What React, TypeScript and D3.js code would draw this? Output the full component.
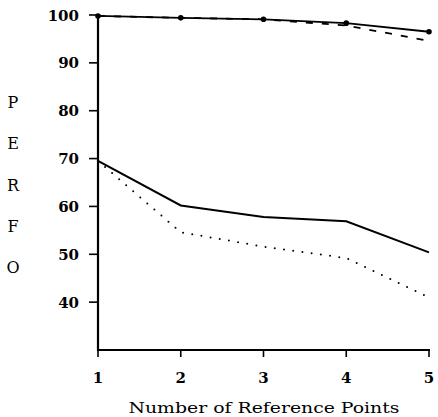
import React from "react";
import * as d3 from "d3";

// Number of reference points on the x axis
const refPoints = [1, 2, 3, 4, 5];
// Upper pair of curves
const upperSolid = [99.8, 99.4, 99.1, 98.3, 96.5];
const upperDashed = [99.8, 99.4, 99.1, 97.8, 94.6];
// Lower pair of curves
const lowerSolid = [69.5, 60.2, 57.8, 56.9, 50.4];
const lowerDotted = [69.5, 54.6, 51.6, 49.2, 41.0];

const yTicks = [40, 50, 60, 70, 80, 90, 100];
const yLabelLetters = ["P", "E", "R", "F", "O"];

const W = 438;
const H = 417;

export default function App() {
  const x = d3.scaleLinear().domain([1, 5]).range([98, 429]);
  const y = d3.scaleLinear().domain([30, 100]).range([350, 15]);

  const line = d3
    .line<number>()
    .x((_, i) => x(refPoints[i]))
    .y((d) => y(d));

  const serif = "'DejaVu Serif', 'Liberation Serif', serif";

  return (
    <svg
      width={W}
      height={H}
      style={{ position: "absolute", left: 0, top: 0, background: "#fff" }}
    >
      {/* axes */}
      <line x1={x(1)} x2={x(1)} y1={y(100) - 1} y2={y(30) + 1} stroke="#000" strokeWidth={2.2} />
      <line x1={x(1) - 1} x2={x(5) + 1} y1={y(30)} y2={y(30)} stroke="#000" strokeWidth={2.2} />

      {/* y ticks and labels */}
      {yTicks.map((t) => (
        <g key={t}>
          <line x1={x(1) - 9} x2={x(1)} y1={y(t)} y2={y(t)} stroke="#000" strokeWidth={1.6} />
          <text
            x={x(1) - 19}
            y={y(t) + 5.5}
            textAnchor="end"
            fontFamily={serif}
            fontWeight="bold"
            fontSize={15}
          >
            {t}
          </text>
        </g>
      ))}

      {/* x ticks and labels */}
      {refPoints.map((p) => (
        <g key={p}>
          <line x1={x(p)} x2={x(p)} y1={y(30)} y2={y(30) + 7} stroke="#000" strokeWidth={1.6} />
          <text
            x={x(p)}
            y={383}
            textAnchor="middle"
            fontFamily={serif}
            fontWeight="bold"
            fontSize={15}
          >
            {p}
          </text>
        </g>
      ))}

      {/* axis titles */}
      <text
        x={264}
        y={413}
        textAnchor="middle"
        fontFamily={serif}
        fontSize={15}
        textLength={271}
        lengthAdjust="spacingAndGlyphs"
      >
        Number of Reference Points
      </text>
      {yLabelLetters.map((ch, i) => (
        <text
          key={i}
          x={13}
          y={108 + i * 41.3}
          textAnchor="middle"
          fontFamily={serif}
          fontSize={16}
        >
          {ch}
        </text>
      ))}

      {/* curves */}
      <path d={line(upperDashed) ?? ""} fill="none" stroke="#000" strokeWidth={1.8} strokeDasharray="7,9" />
      <path d={line(upperSolid) ?? ""} fill="none" stroke="#000" strokeWidth={1.8} />
      {upperSolid.map((v, i) => (
        <circle key={i} cx={x(refPoints[i])} cy={y(v)} r={2.8} fill="#000" />
      ))}
      <path d={line(lowerSolid) ?? ""} fill="none" stroke="#000" strokeWidth={2} />
      <path
        d={line(lowerDotted) ?? ""}
        fill="none"
        stroke="#000"
        strokeWidth={2}
        strokeLinecap="round"
        strokeDasharray="0,9.3"
      />
    </svg>
  );
}
